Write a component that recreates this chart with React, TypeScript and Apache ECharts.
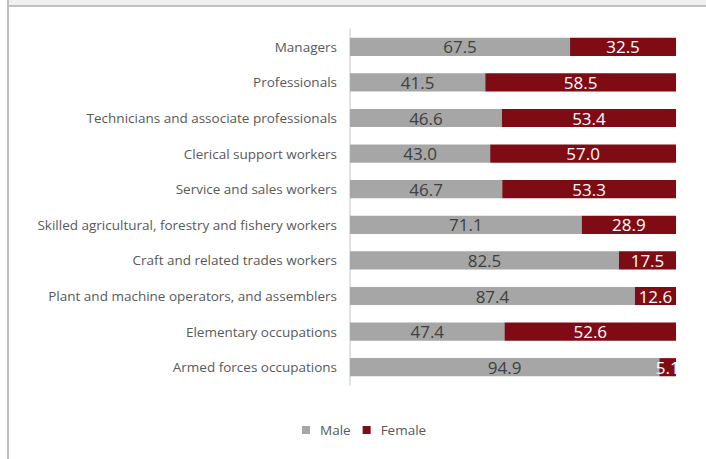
import React, { useEffect, useRef } from "react";
import * as echarts from "echarts";

const categories = [
  "Managers",
  "Professionals",
  "Technicians and associate professionals",
  "Clerical support workers",
  "Service and sales workers",
  "Skilled agricultural, forestry and fishery workers",
  "Craft and related trades workers",
  "Plant and machine operators, and assemblers",
  "Elementary occupations",
  "Armed forces occupations",
];
const maleValues = [67.5, 41.5, 46.6, 43.0, 46.7, 71.1, 82.5, 87.4, 47.4, 94.9];
const femaleValues = [32.5, 58.5, 53.4, 57.0, 53.3, 28.9, 17.5, 12.6, 52.6, 5.1];

export default function App() {
  const ref = useRef<HTMLDivElement>(null);
  useEffect(() => {
    const chart = echarts.init(ref.current!, null, { renderer: "svg" });
    chart.setOption({
      animation: false,
      backgroundColor: "#ffffff",
      textStyle: { fontFamily: "Open Sans" },
      graphic: [
        { type: "rect", shape: { x: 9, y: 0, width: 697, height: 5 }, style: { fill: "#f0f0f0" } },
        { type: "rect", shape: { x: 7, y: 5, width: 699, height: 2 }, style: { fill: "#bfbfbf" } },
        { type: "rect", shape: { x: 7, y: 0, width: 2, height: 459 }, style: { fill: "#bfbfbf" } },
      ],
      legend: {
        bottom: 17,
        left: 297,
        itemWidth: 8,
        itemHeight: 8,
        itemGap: 12,
        icon: "rect",
        textStyle: {
          color: "#595959",
          fontSize: 13.5,
          fontFamily: "Open Sans",
          padding: [0, 0, 0, 5],
        },
        data: ["Male", "Female"],
      },
      grid: { left: 350, right: 30, top: 29, bottom: 74 },
      xAxis: {
        type: "value",
        min: 0,
        max: 100,
        show: false,
      },
      yAxis: {
        type: "category",
        inverse: true,
        data: categories,
        axisLine: { show: true, lineStyle: { color: "#d9d9d9", width: 1.5 } },
        axisTick: { show: false },
        axisLabel: { color: "#595959", fontSize: 13.5, margin: 13, fontFamily: "Open Sans" },
      },
      series: [
        {
          name: "Male",
          type: "bar",
          stack: "total",
          barWidth: "51%",
          data: maleValues,
          itemStyle: { color: "#a6a6a6" },
          label: {
            show: true,
            position: "inside",
            color: "#404040",
            fontSize: 17,
            fontFamily: "Open Sans",
            formatter: (p: any) => p.value.toFixed(1),
          },
        },
        {
          name: "Female",
          type: "bar",
          stack: "total",
          barWidth: "51%",
          data: femaleValues,
          itemStyle: { color: "#7f0c14" },
          label: {
            show: true,
            position: "inside",
            color: "#ffffff",
            fontSize: 17,
            fontFamily: "Open Sans",
            formatter: (p: any) => p.value.toFixed(1),
          },
        },
      ],
    });
    return () => chart.dispose();
  }, []);
  return (
    <div
      ref={ref}
      style={{ position: "fixed", left: 0, top: 0, width: 706, height: 459 }}
    />
  );
}
